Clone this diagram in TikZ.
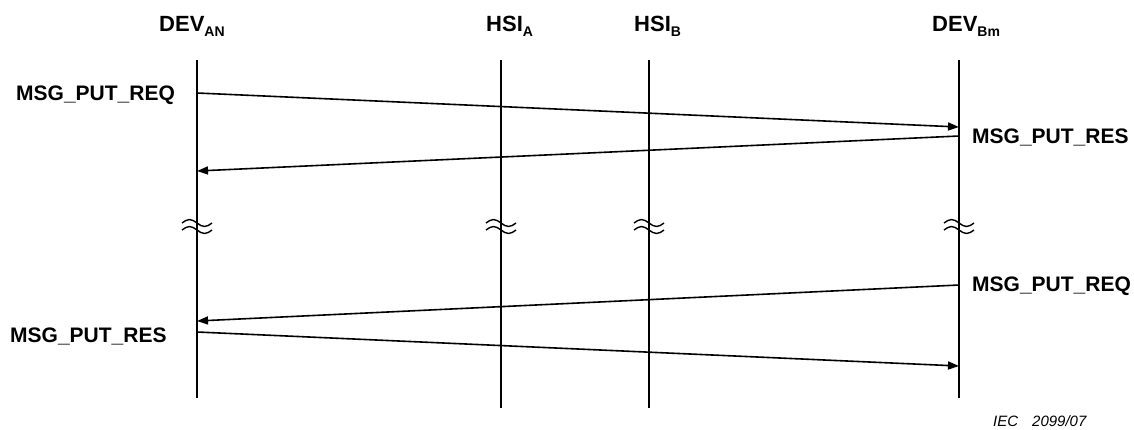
\documentclass[tikz,border=0pt]{standalone}
\usepackage{fontspec}
\setmainfont{Liberation Sans}
\usetikzlibrary{arrows.meta}
\newcommand{\subtxt}[1]{\raisebox{-5pt}{\fontsize{14}{14}\selectfont #1}}
\begin{document}
\begin{tikzpicture}[x=1pt,y=-1pt,
  life/.style={line width=1.6pt},
  msg/.style={line width=1.6pt,-{Triangle[length=11pt,width=8pt]}},
  lbl/.style={font=\fontsize{21}{24}\selectfont\bfseries,inner sep=0pt,anchor=base west},
  hdr/.style={font=\fontsize{22}{24}\selectfont\bfseries,inner sep=0pt,anchor=base west},
  brk/.style={line width=1.4pt},
  note/.style={font=\fontsize{15}{16}\selectfont\itshape,inner sep=0pt,anchor=base west}]
\useasboundingbox (0,0) rectangle (1134,429);

% headers
\node[hdr] (hA)  at (159,31) {DEV\subtxt{AN}};
\node[hdr] (hHA) at (486,31) {HSI\subtxt{A}};
\node[hdr] (hHB) at (634,31) {HSI\subtxt{B}};
\node[hdr] (hB)  at (932,31) {DEV\subtxt{Bm}};

% lifelines
\coordinate (aTop) at (197,60);  \coordinate (aBot) at (197,398);
\coordinate (haTop) at (501,60); \coordinate (haBot) at (501,408);
\coordinate (hbTop) at (649,60); \coordinate (hbBot) at (649,408);
\coordinate (bTop) at (959,60);  \coordinate (bBot) at (959,398);
\draw[life] (aTop) -- (aBot);
\draw[life] (haTop) -- (haBot);
\draw[life] (hbTop) -- (hbBot);
\draw[life] (bTop) -- (bBot);

% break marks on each lifeline
\foreach \x in {197,501,649,959}{
  \foreach \y in {223,230}{
    \draw[brk] (\x-15,\y) sin (\x-7.5,\y-3.5) cos (\x,\y) sin (\x+7.5,\y+3.5) cos (\x+15,\y);
  }
}

% message end points
\coordinate (m1s) at (197,93);  \coordinate (m1e) at (959,127);
\coordinate (m2s) at (959,136); \coordinate (m2e) at (197,171);
\coordinate (m3s) at (959,285); \coordinate (m3e) at (197,321);
\coordinate (m4s) at (197,332); \coordinate (m4e) at (959,366);

\draw[msg] (m1s) -- (m1e);
\draw[msg] (m2s) -- (m2e);
\draw[msg] (m3s) -- (m3e);
\draw[msg] (m4s) -- (m4e);

% message labels
\node[lbl] (l1) at (16,100)  {MSG\_PUT\_REQ};
\node[lbl] (l2) at (972,143) {MSG\_PUT\_RES};
\node[lbl] (l3) at (972,291) {MSG\_PUT\_REQ};
\node[lbl] (l4) at (10,342)  {MSG\_PUT\_RES};

% figure reference
\node[note] (ref) at (993,426) {IEC\hspace{14pt}2099/07};
\end{tikzpicture}
\end{document}
